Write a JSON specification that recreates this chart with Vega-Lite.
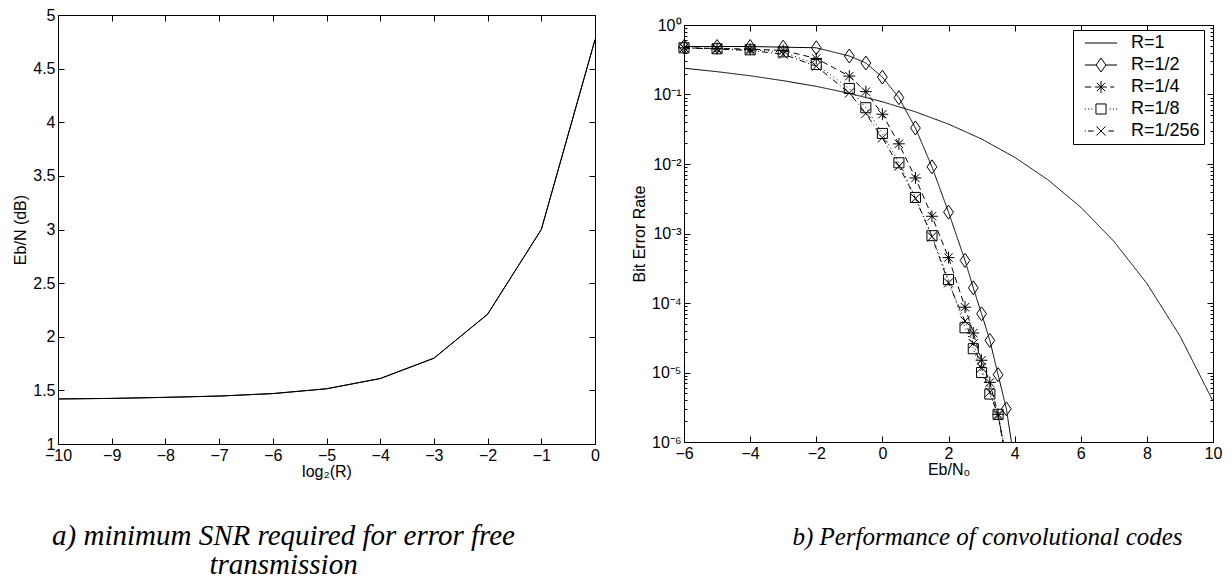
{
  "$schema": "https://vega.github.io/schema/vega-lite/v6.json",
  "padding": {"left": 12, "top": 6, "right": 5, "bottom": 0},
  "background": "white",
  "config": {
    "font": "Liberation Sans",
    "view": {"stroke": "black", "strokeWidth": 1},
    "axis": {
      "domain": false, "grid": false, "tickColor": "black", "tickSize": -6, "tickWidth": 1,
      "labelPadding": 9, "labelFontSize": 16, "labelColor": "black", "labelFont": "Liberation Sans",
      "titleFont": "Liberation Sans", "titleFontSize": 16, "titleFontWeight": "normal", "titleColor": "black",
      "labelFlush": false, "labelOverlap": false
    }
  },
  "datasets": {
    "snr": [
      {"log2R": -10, "ebn": 1.42}, {"log2R": -9, "ebn": 1.425}, {"log2R": -8, "ebn": 1.435},
      {"log2R": -7, "ebn": 1.447}, {"log2R": -6, "ebn": 1.47}, {"log2R": -5, "ebn": 1.515},
      {"log2R": -4, "ebn": 1.61}, {"log2R": -3, "ebn": 1.8}, {"log2R": -2, "ebn": 2.21},
      {"log2R": -1, "ebn": 3.0}, {"log2R": 0, "ebn": 4.77}
    ],
    "ber": [
      {"series": "R=1", "ebn0": -6, "ber": 0.239}, {"series": "R=1", "ebn0": -5, "ber": 0.213},
      {"series": "R=1", "ebn0": -4, "ber": 0.186}, {"series": "R=1", "ebn0": -3, "ber": 0.158},
      {"series": "R=1", "ebn0": -2, "ber": 0.131}, {"series": "R=1", "ebn0": -1, "ber": 0.104},
      {"series": "R=1", "ebn0": 0, "ber": 0.0786}, {"series": "R=1", "ebn0": 1, "ber": 0.0563},
      {"series": "R=1", "ebn0": 2, "ber": 0.0375}, {"series": "R=1", "ebn0": 3, "ber": 0.0229},
      {"series": "R=1", "ebn0": 4, "ber": 0.0125}, {"series": "R=1", "ebn0": 5, "ber": 0.00596},
      {"series": "R=1", "ebn0": 6, "ber": 0.00239}, {"series": "R=1", "ebn0": 7, "ber": 0.000773},
      {"series": "R=1", "ebn0": 8, "ber": 0.000191}, {"series": "R=1", "ebn0": 9, "ber": 0.0000336},
      {"series": "R=1", "ebn0": 10, "ber": 0.00000387},

      {"series": "R=1/2", "ebn0": -6, "ber": 0.49}, {"series": "R=1/2", "ebn0": -5, "ber": 0.49},
      {"series": "R=1/2", "ebn0": -4, "ber": 0.49}, {"series": "R=1/2", "ebn0": -3, "ber": 0.48},
      {"series": "R=1/2", "ebn0": -2, "ber": 0.47}, {"series": "R=1/2", "ebn0": -1, "ber": 0.358},
      {"series": "R=1/2", "ebn0": -0.5, "ber": 0.284}, {"series": "R=1/2", "ebn0": 0, "ber": 0.178},
      {"series": "R=1/2", "ebn0": 0.5, "ber": 0.09}, {"series": "R=1/2", "ebn0": 1, "ber": 0.033},
      {"series": "R=1/2", "ebn0": 1.5, "ber": 0.0091}, {"series": "R=1/2", "ebn0": 2, "ber": 0.00203},
      {"series": "R=1/2", "ebn0": 2.5, "ber": 0.00041}, {"series": "R=1/2", "ebn0": 2.75, "ber": 0.000165},
      {"series": "R=1/2", "ebn0": 3, "ber": 0.00007}, {"series": "R=1/2", "ebn0": 3.25, "ber": 0.000029},
      {"series": "R=1/2", "ebn0": 3.5, "ber": 0.0000093}, {"series": "R=1/2", "ebn0": 3.75, "ber": 0.000003},
      {"series": "R=1/2", "ebn0": 4, "ber": 0.0000005},

      {"series": "R=1/4", "ebn0": -6, "ber": 0.47}, {"series": "R=1/4", "ebn0": -5, "ber": 0.46},
      {"series": "R=1/4", "ebn0": -4, "ber": 0.45}, {"series": "R=1/4", "ebn0": -3, "ber": 0.43},
      {"series": "R=1/4", "ebn0": -2, "ber": 0.33}, {"series": "R=1/4", "ebn0": -1, "ber": 0.184},
      {"series": "R=1/4", "ebn0": -0.5, "ber": 0.11}, {"series": "R=1/4", "ebn0": 0, "ber": 0.052},
      {"series": "R=1/4", "ebn0": 0.5, "ber": 0.0195}, {"series": "R=1/4", "ebn0": 1, "ber": 0.0063},
      {"series": "R=1/4", "ebn0": 1.5, "ber": 0.00177}, {"series": "R=1/4", "ebn0": 2, "ber": 0.00045},
      {"series": "R=1/4", "ebn0": 2.5, "ber": 0.000087}, {"series": "R=1/4", "ebn0": 2.75, "ber": 0.000037},
      {"series": "R=1/4", "ebn0": 3, "ber": 0.000015}, {"series": "R=1/4", "ebn0": 3.25, "ber": 0.0000072},
      {"series": "R=1/4", "ebn0": 3.5, "ber": 0.0000025}, {"series": "R=1/4", "ebn0": 3.75, "ber": 0.0000005},

      {"series": "R=1/8", "ebn0": -6, "ber": 0.47}, {"series": "R=1/8", "ebn0": -5, "ber": 0.455},
      {"series": "R=1/8", "ebn0": -4, "ber": 0.44}, {"series": "R=1/8", "ebn0": -3, "ber": 0.41},
      {"series": "R=1/8", "ebn0": -2, "ber": 0.27}, {"series": "R=1/8", "ebn0": -1, "ber": 0.122},
      {"series": "R=1/8", "ebn0": -0.5, "ber": 0.0645}, {"series": "R=1/8", "ebn0": 0, "ber": 0.0275},
      {"series": "R=1/8", "ebn0": 0.5, "ber": 0.0104}, {"series": "R=1/8", "ebn0": 1, "ber": 0.0033},
      {"series": "R=1/8", "ebn0": 1.5, "ber": 0.00093}, {"series": "R=1/8", "ebn0": 2, "ber": 0.000217},
      {"series": "R=1/8", "ebn0": 2.5, "ber": 0.000044}, {"series": "R=1/8", "ebn0": 2.75, "ber": 0.000022},
      {"series": "R=1/8", "ebn0": 3, "ber": 0.00001}, {"series": "R=1/8", "ebn0": 3.25, "ber": 0.0000049},
      {"series": "R=1/8", "ebn0": 3.5, "ber": 0.0000025}, {"series": "R=1/8", "ebn0": 3.75, "ber": 0.0000006},

      {"series": "R=1/256", "ebn0": -6, "ber": 0.47}, {"series": "R=1/256", "ebn0": -5, "ber": 0.45},
      {"series": "R=1/256", "ebn0": -4, "ber": 0.43}, {"series": "R=1/256", "ebn0": -3, "ber": 0.38},
      {"series": "R=1/256", "ebn0": -2, "ber": 0.255}, {"series": "R=1/256", "ebn0": -1, "ber": 0.105},
      {"series": "R=1/256", "ebn0": -0.5, "ber": 0.0534}, {"series": "R=1/256", "ebn0": 0, "ber": 0.0238},
      {"series": "R=1/256", "ebn0": 0.5, "ber": 0.0093}, {"series": "R=1/256", "ebn0": 1, "ber": 0.0032},
      {"series": "R=1/256", "ebn0": 1.5, "ber": 0.0009}, {"series": "R=1/256", "ebn0": 2, "ber": 0.000195},
      {"series": "R=1/256", "ebn0": 2.5, "ber": 0.000055}, {"series": "R=1/256", "ebn0": 2.75, "ber": 0.000026},
      {"series": "R=1/256", "ebn0": 3, "ber": 0.0000117}, {"series": "R=1/256", "ebn0": 3.25, "ber": 0.0000052},
      {"series": "R=1/256", "ebn0": 3.5, "ber": 0.0000024}, {"series": "R=1/256", "ebn0": 3.75, "ber": 0.0000006}
    ]
  },
  "spacing": 30,
  "hconcat": [
    {
      "width": 537,
      "height": 429,
      "title": {
        "text": ["a) minimum SNR required for error free", "transmission"],
        "orient": "bottom", "anchor": "middle", "font": "Liberation Serif", "fontSize": 29,
        "fontStyle": "italic", "fontWeight": "normal", "color": "black", "offset": 43, "lineHeight": 29, "dx": -43
      },
      "data": {"name": "snr"},
      "layer": [
        {
          "mark": {"type": "line", "color": "black", "strokeWidth": 1},
          "encoding": {
            "x": {"field": "log2R", "type": "quantitative", "scale": {"domain": [-10, 0], "nice": false, "zero": false},
                  "axis": {"values": [-10, -9, -8, -7, -6, -5, -4, -3, -2, -1, 0], "format": "d", "title": "log₂(R)", "titlePadding": 0}},
            "y": {"field": "ebn", "type": "quantitative", "scale": {"domain": [1, 5], "nice": false, "zero": false},
                  "axis": {"values": [1, 1.5, 2, 2.5, 3, 3.5, 4, 4.5, 5], "format": "~g", "title": "Eb/N (dB)", "titlePadding": 4}}
          }
        },
        {
          "mark": {"type": "line", "color": "black", "strokeWidth": 1},
          "encoding": {
            "x": {"field": "log2R", "type": "quantitative", "scale": {"domain": [-10, 0], "nice": false, "zero": false},
                  "axis": {"orient": "top", "values": [-10, -9, -8, -7, -6, -5, -4, -3, -2, -1, 0], "labels": false, "title": null}},
            "y": {"field": "ebn", "type": "quantitative", "scale": {"domain": [1, 5], "nice": false, "zero": false},
                  "axis": {"orient": "right", "values": [1, 1.5, 2, 2.5, 3, 3.5, 4, 4.5, 5], "labels": false, "title": null}}
          }
        }
      ],
      "resolve": {"axis": {"x": "independent", "y": "independent"}}
    },
    {
      "spacing": 0,
      "vconcat": [
        {
          "width": 529,
          "height": 1,
          "view": {"stroke": null},
          "data": {"values": []},
          "mark": {"type": "point", "opacity": 0},
          "encoding": {}
        },
        {
          "width": 529,
          "height": 417,
          "title": {
            "text": "b) Performance of convolutional codes",
            "orient": "bottom", "anchor": "middle", "font": "Liberation Serif", "fontSize": 25,
            "fontStyle": "italic", "fontWeight": "normal", "color": "black", "offset": 48, "dx": 39
          },
          "data": {"name": "ber"},
          "layer": [
            {
              "mark": {"type": "line", "color": "black", "strokeWidth": 1, "clip": true},
              "encoding": {
                "x": {"field": "ebn0", "type": "quantitative", "scale": {"domain": [-6, 10], "nice": false, "zero": false},
                      "axis": {"values": [-6, -4, -2, 0, 2, 4, 6, 8, 10], "format": "d", "title": "Eb/N₀", "titlePadding": 0}},
                "y": {"field": "ber", "type": "quantitative", "scale": {"type": "log", "domain": [0.000001, 1], "nice": false},
                      "axis": {"values": [0.000001, 0.00001, 0.0001, 0.001, 0.01, 0.1, 1],
                               "labelExpr": "datum.value > 0.5 ? '10⁰' : datum.value > 0.05 ? '10⁻¹' : datum.value > 0.005 ? '10⁻²' : datum.value > 0.0005 ? '10⁻³' : datum.value > 0.00005 ? '10⁻⁴' : datum.value > 0.000005 ? '10⁻⁵' : '10⁻⁶'",
                               "title": "Bit Error Rate", "titlePadding": 4}},
                "detail": {"field": "series", "type": "nominal"},
                "strokeDash": {"field": "series", "type": "nominal",
                               "scale": {"domain": ["R=1", "R=1/2", "R=1/4", "R=1/8", "R=1/256"], "range": [[1, 0], [1, 0], [6, 4], [1, 3], [6, 3, 1, 3]]},
                               "legend": null}
              }
            },
            {
              "transform": [{"filter": "datum.series !== 'R=1' && datum.ber >= 0.000001"}],
              "mark": {"type": "point", "filled": false, "color": "black", "strokeWidth": 1, "size": 196, "opacity": 1},
              "encoding": {
                "x": {"field": "ebn0", "type": "quantitative", "scale": {"domain": [-6, 10], "nice": false, "zero": false},
                      "axis": {"orient": "top", "values": [-6, -4, -2, 0, 2, 4, 6, 8, 10], "labels": false, "title": null}},
                "y": {"field": "ber", "type": "quantitative", "scale": {"type": "log", "domain": [0.000001, 1], "nice": false},
                      "axis": {"orient": "right", "values": [0.000001, 0.00001, 0.0001, 0.001, 0.01, 0.1, 1], "labels": false, "title": null}},
                "shape": {"field": "series", "type": "nominal",
                          "scale": {"domain": ["R=1/2", "R=1/4", "R=1/8", "R=1/256"],
                                    "range": ["M0,-1L0.7,0L0,1L-0.7,0Z",
                                              "M0,-0.85V0.85M-0.85,0H0.85M-0.6,-0.6L0.6,0.6M-0.6,0.6L0.6,-0.6",
                                              "M-0.72,-0.72H0.72V0.72H-0.72Z",
                                              "M-0.65,-0.65L0.65,0.65M-0.65,0.65L0.65,-0.65"]},
                          "legend": null}
              }
            },
            {
              "transform": [{"filter": "datum.ebn0 === -6"}],
              "mark": {"type": "point", "filled": false, "color": "black", "strokeWidth": 1, "size": 196, "opacity": 0},
              "encoding": {
                "x": {"field": "ebn0", "type": "quantitative", "scale": {"domain": [-6, 10], "nice": false, "zero": false}, "axis": null},
                "y": {"field": "ber", "type": "quantitative", "scale": {"type": "log", "domain": [0.000001, 1], "nice": false},
                      "axis": {"orient": "left", "tickSize": -3, "labels": false, "title": null,
                               "values": [0.000002, 0.000003, 0.000004, 0.000005, 0.000006, 0.000007, 0.000008, 0.000009,
                                          0.00002, 0.00003, 0.00004, 0.00005, 0.00006, 0.00007, 0.00008, 0.00009,
                                          0.0002, 0.0003, 0.0004, 0.0005, 0.0006, 0.0007, 0.0008, 0.0009,
                                          0.002, 0.003, 0.004, 0.005, 0.006, 0.007, 0.008, 0.009,
                                          0.02, 0.03, 0.04, 0.05, 0.06, 0.07, 0.08, 0.09,
                                          0.2, 0.3, 0.4, 0.5, 0.6, 0.7, 0.8, 0.9]}},
                "shape": {"field": "series", "type": "nominal",
                          "scale": {"domain": ["R=1", "R=1/2", "R=1/4", "R=1/8", "R=1/256"],
                                    "range": ["M-2.3,0H2.3",
                                              "M-2.3,0H-0.7M0.7,0H2.3M0,-1L0.7,0L0,1L-0.7,0Z",
                                              "M-2.3,0H-1.4M1.3,0H1.9M0,-0.85V0.85M-0.85,0H0.85M-0.6,-0.6L0.6,0.6M-0.6,0.6L0.6,-0.6",
                                              "M-2.3,0H-2.15M-1.85,0H-1.7M-1.4,0H-1.25M1.25,0H1.4M1.7,0H1.85M2.15,0H2.3M-0.72,-0.72H0.72V0.72H-0.72Z",
                                              "M-2.3,0H-2.15M-1.85,0H-1.05M1.05,0H1.85M-0.65,-0.65L0.65,0.65M-0.65,0.65L0.65,-0.65"]},
                          "legend": {"title": null, "orient": "none", "legendX": 389, "legendY": 5,
                                     "strokeColor": "black", "fillColor": "white", "padding": 4, "rowPadding": 4,
                                     "symbolOffset": 15, "labelOffset": 21, "symbolSize": 196, "symbolStrokeColor": "black",
                                     "symbolStrokeWidth": 1, "symbolOpacity": 1, "labelFont": "Liberation Sans",
                                     "labelFontSize": 18, "labelColor": "black", "cornerRadius": 0,
                                     "encode": {"symbols": {"update": {"opacity": {"value": 1}, "fill": {"value": "transparent"}, "stroke": {"value": "black"}}}}}}
              }
            },
            {
              "transform": [{"filter": "datum.ebn0 === -6"}],
              "mark": {"type": "point", "filled": false, "color": "black", "opacity": 0},
              "encoding": {
                "x": {"field": "ebn0", "type": "quantitative", "scale": {"domain": [-6, 10], "nice": false, "zero": false}, "axis": null},
                "y": {"field": "ber", "type": "quantitative", "scale": {"type": "log", "domain": [0.000001, 1], "nice": false},
                      "axis": {"orient": "right", "tickSize": -3, "labels": false, "title": null,
                               "values": [0.000002, 0.000003, 0.000004, 0.000005, 0.000006, 0.000007, 0.000008, 0.000009,
                                          0.00002, 0.00003, 0.00004, 0.00005, 0.00006, 0.00007, 0.00008, 0.00009,
                                          0.0002, 0.0003, 0.0004, 0.0005, 0.0006, 0.0007, 0.0008, 0.0009,
                                          0.002, 0.003, 0.004, 0.005, 0.006, 0.007, 0.008, 0.009,
                                          0.02, 0.03, 0.04, 0.05, 0.06, 0.07, 0.08, 0.09,
                                          0.2, 0.3, 0.4, 0.5, 0.6, 0.7, 0.8, 0.9]}}
              }
            }
          ],
          "resolve": {"axis": {"x": "independent", "y": "independent"}, "scale": {"shape": "independent"}}
        }
      ]
    }
  ]
}
